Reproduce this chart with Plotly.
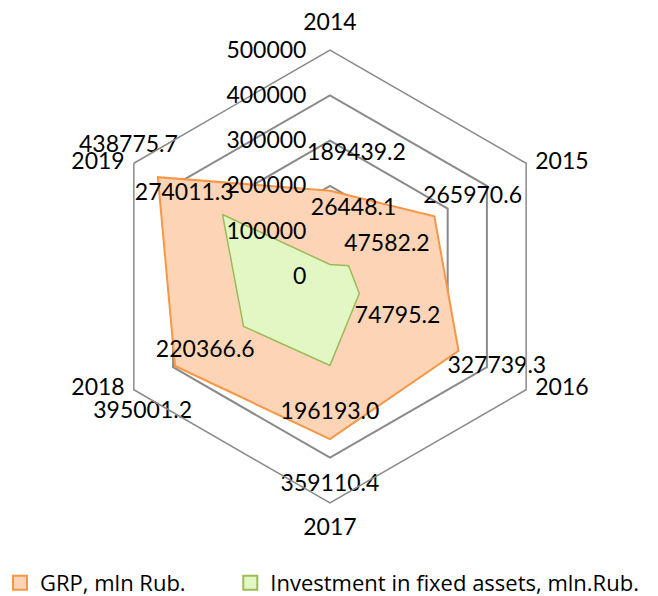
import plotly.graph_objects as go

# ---- data ----
years = ["2014", "2015", "2016", "2017", "2018", "2019"]
grp = [189439.2, 265970.6, 327739.3, 359110.4, 395001.2, 438775.7]
invest = [26448.1, 47582.2, 74795.2, 196193.0, 220366.6, 274011.3]
radial_ticks = [0, 100000, 200000, 300000, 400000, 500000]
series_names = ["GRP, mln Rub.", "Investment in fixed assets, mln.Rub."]

# ---- styles ----
FONT = "Lato"
FS = 23
LEG_FONT = "Open Sans"
LEG_FS = 22
GRID = "#8a8a8a"
GRP_LINE = "#F79646"
GRP_FILL = "#FDD5B6"
INV_LINE = "#9BBB59"
INV_FILL = "#E3F7C4"

# data-label placement styles (position, invisible marker size that sets the offset, nbsp padding)
grp_lbl_pos = ["top center", "top center", "bottom center", "bottom center", "bottom center", "top center"]
grp_lbl_size = [38, 11, 6.5, 54, 54, 29]
grp_lbl_lpad = [9, 13, 13, 0, 0, 0]
grp_lbl_rpad = [0, 0, 0, 0, 11, 10]
inv_lbl_pos = ["top center", "top center", "bottom center", "bottom center", "bottom center", "top center"]
inv_lbl_size = [68, 13, 18.5, 57, 20, 12]
inv_lbl_lpad = [8, 13, 13, 0, 0, 0]
inv_lbl_rpad = [0, 0, 0, 0, 13, 13]
# category label placement around the outer ring
cat_lbl_pos = ["top center", "middle right", "middle right", "bottom center", "middle left", "middle left"]
cat_lbl_size = [21, 13, 13, 22, 13, 13]

NB = "\u00a0"


def label_texts(vals, lpad, rpad):
    return [NB * l + f"{v:.1f}" + NB * r for v, l, r in zip(vals, lpad, rpad)]


fig = go.Figure()

# filled series (closed polygons)
fig.add_trace(go.Scatterpolar(
    r=grp + grp[:1], theta=years + years[:1], mode="lines", fill="toself",
    fillcolor=GRP_FILL, line=dict(color=GRP_LINE, width=2),
    name=series_names[0], showlegend=False, hoverinfo="skip"))
fig.add_trace(go.Scatterpolar(
    r=invest + invest[:1], theta=years + years[:1], mode="lines", fill="toself",
    fillcolor=INV_FILL, line=dict(color=INV_LINE, width=1.5),
    name=series_names[1], showlegend=False, hoverinfo="skip"))

# data labels
fig.add_trace(go.Scatterpolar(
    r=grp, theta=years, mode="markers+text",
    text=label_texts(grp, grp_lbl_lpad, grp_lbl_rpad), textposition=grp_lbl_pos,
    marker=dict(size=grp_lbl_size, color="rgba(0,0,0,0)", line=dict(width=0)),
    textfont=dict(family=FONT, size=FS, color="black"),
    showlegend=False, hoverinfo="skip", cliponaxis=False))
fig.add_trace(go.Scatterpolar(
    r=invest, theta=years, mode="markers+text",
    text=label_texts(invest, inv_lbl_lpad, inv_lbl_rpad), textposition=inv_lbl_pos,
    marker=dict(size=inv_lbl_size, color="rgba(0,0,0,0)", line=dict(width=0)),
    textfont=dict(family=FONT, size=FS, color="black"),
    showlegend=False, hoverinfo="skip", cliponaxis=False))

# category labels at the outer ring
fig.add_trace(go.Scatterpolar(
    r=[radial_ticks[-1]] * len(years), theta=years, mode="markers+text",
    text=years, textposition=cat_lbl_pos,
    marker=dict(size=cat_lbl_size, color="rgba(0,0,0,0)", line=dict(width=0)),
    textfont=dict(family=FONT, size=FS, color="black"),
    showlegend=False, hoverinfo="skip", cliponaxis=False))

# legend entries (square swatches), one legend box each
fig.add_trace(go.Scatterpolar(
    r=[None], theta=[years[0]], mode="markers", name=series_names[0], legend="legend",
    marker=dict(symbol="square", size=14, color=GRP_FILL, line=dict(color=GRP_LINE, width=2))))
fig.add_trace(go.Scatterpolar(
    r=[None], theta=[years[0]], mode="markers", name=series_names[1], legend="legend2",
    marker=dict(symbol="square", size=14, color=INV_FILL, line=dict(color=INV_LINE, width=2))))

leg_common = dict(
    orientation="h", xref="container", yref="container", xanchor="left",
    y=0.022, yanchor="middle", itemsizing="trace",
    font=dict(family=LEG_FONT, size=LEG_FS, color="black"),
    bgcolor="rgba(0,0,0,0)",
)

fig.update_layout(
    width=658, height=596,
    margin=dict(l=0, r=0, t=0, b=0, autoexpand=False),
    paper_bgcolor="white",
    font=dict(family=FONT, size=FS, color="black"),
    polar=dict(
        domain=dict(x=[0.1573, 0.8457], y=[0.1560, 0.9161]),
        bgcolor="white",
        gridshape="linear",
        radialaxis=dict(
            range=[0, 500000], tickvals=radial_ticks,
            ticktext=[str(v) for v in radial_ticks],
            angle=90, side="counterclockwise", tickangle=90,
            showline=False, gridcolor=GRID, gridwidth=1.5,
            ticks="outside", ticklen=15, tickcolor="rgba(0,0,0,0)",
            tickfont=dict(family=FONT, size=FS, color="black"),
        ),
        angularaxis=dict(
            type="category", categoryarray=years,
            direction="clockwise", rotation=90,
            showgrid=False, showline=True, linecolor=GRID, linewidth=1.5,
            ticks="", showticklabels=False,
        ),
    ),
    legend=dict(x=0.0, **leg_common),
    legend2=dict(x=0.350, **leg_common),
)

fig.write_html("out.html", config={"displayModeBar": False},
               post_script="document.body.style.margin='0';")
